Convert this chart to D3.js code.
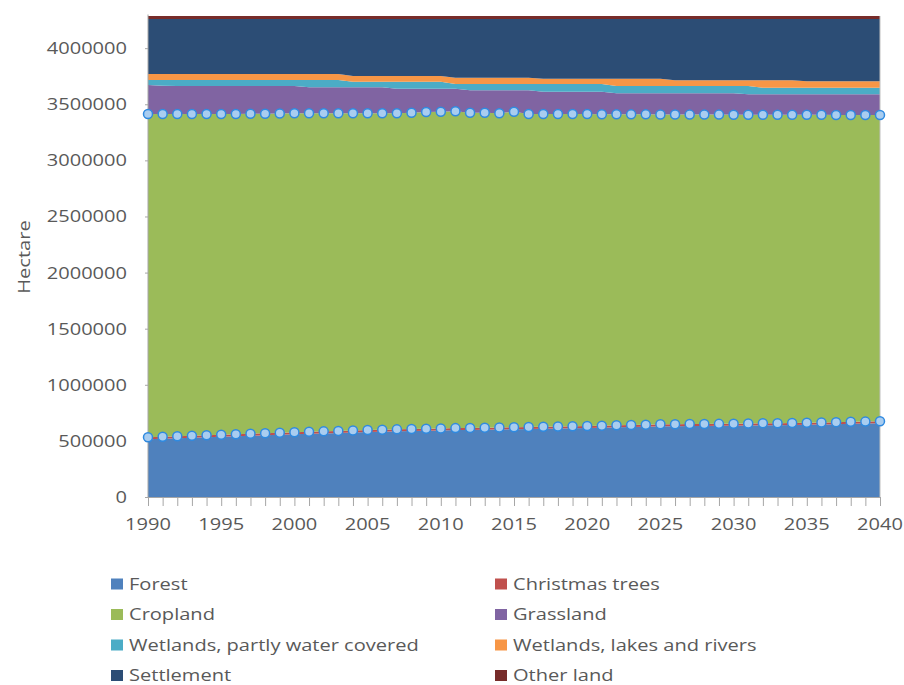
<!DOCTYPE html>
<html>
<head>
<meta charset="utf-8">
<script src="https://cdn.jsdelivr.net/npm/d3@7"></script>
<style>
  body { margin: 0; background: #fff; }
  text { font-family: "Open Sans", sans-serif; fill: #595959; }
</style>
</head>
<body>
<div id="chart"></div>
<script>
// land use, hectare, 1990-2040
const years = d3.range(1990, 2041);

const forest = [514000, 519000, 523000, 528000, 533000, 537000, 542000, 546000, 550000, 555000,
  559000, 563000, 567000, 571000, 575000, 579000, 582000, 585000, 588000, 591000,
  593000, 596000, 598000, 600000, 602000, 604000, 606000, 608000, 610000, 612000,
  615000, 618000, 621000, 624000, 627000, 630000, 631000, 632000, 633000, 634000,
  635000, 637000, 639000, 640000, 642000, 644000, 646000, 649000, 652000, 654000, 657000];

const christmasTrees = [18000, 18000, 18000, 18000, 18000, 18000, 18000, 18000, 18000, 18000,
  18000, 18000, 18000, 18000, 18000, 18000, 18000, 18000, 18000, 18000,
  18000, 18000, 18000, 18000, 18000, 18000, 18000, 18000, 18000, 18000,
  18000, 18000, 18000, 18000, 18000, 18000, 18000, 18000, 18000, 18000,
  18000, 18000, 18000, 18000, 18000, 18000, 18000, 18000, 18000, 18000, 18000];

const cropland = [2882000, 2877000, 2873000, 2868000, 2863000, 2859000, 2854000, 2851000, 2848000, 2845000,
  2843000, 2839000, 2835000, 2831000, 2827000, 2823000, 2820000, 2817000, 2819000, 2822000,
  2823000, 2823000, 2809000, 2807000, 2800000, 2812000, 2790000, 2788000, 2786000, 2784000,
  2781000, 2775000, 2772000, 2768000, 2765000, 2761000, 2760000, 2758000, 2757000, 2756000,
  2754000, 2752000, 2750000, 2748000, 2746000, 2744000, 2742000, 2738000, 2735000, 2733000, 2730000];

const grassland = [258000, 252000, 249000, 249000, 249000, 249000, 249000, 248000, 247000, 245000,
  243000, 232000, 232000, 232000, 232000, 232000, 232000, 219000, 214000, 208000,
  205000, 202000, 200000, 200000, 205000, 191000, 211000, 198000, 198000, 198000,
  198000, 201000, 187000, 188000, 188000, 189000, 189000, 190000, 190000, 190000,
  191000, 182000, 182000, 183000, 183000, 183000, 183000, 184000, 184000, 184000, 184000];

const wetlandsPartly = [45000, 51000, 54000, 54000, 54000, 54000, 54000, 54000, 54000, 54000,
  54000, 65000, 65000, 65000, 49000, 49000, 49000, 62000, 62000, 62000,
  62000, 42000, 56000, 56000, 56000, 56000, 56000, 69000, 69000, 69000,
  69000, 69000, 65000, 65000, 65000, 65000, 65000, 65000, 65000, 65000,
  65000, 74000, 59000, 59000, 59000, 59000, 59000, 59000, 59000, 59000, 59000];

const wetlandsLakes = [53000, 53000, 53000, 53000, 53000, 53000, 53000, 53000, 53000, 53000,
  53000, 53000, 53000, 53000, 51000, 51000, 51000, 51000, 51000, 51000,
  51000, 56000, 56000, 56000, 56000, 56000, 56000, 47000, 47000, 47000,
  47000, 47000, 65000, 65000, 65000, 65000, 51000, 51000, 51000, 51000,
  51000, 51000, 66000, 66000, 66000, 57000, 57000, 57000, 57000, 57000, 57000];

const settlement = [490000, 490000, 490000, 490000, 490000, 490000, 490000, 490000, 490000, 490000,
  490000, 490000, 490000, 490000, 508000, 508000, 508000, 508000, 508000, 508000,
  508000, 523000, 523000, 523000, 523000, 523000, 523000, 532000, 532000, 532000,
  532000, 532000, 532000, 532000, 532000, 532000, 546000, 546000, 546000, 546000,
  546000, 546000, 546000, 546000, 546000, 555000, 555000, 555000, 555000, 555000, 555000];

const otherLand = [27000, 27000, 27000, 27000, 27000, 27000, 27000, 27000, 27000, 27000,
  27000, 27000, 27000, 27000, 27000, 27000, 27000, 27000, 27000, 27000,
  27000, 27000, 27000, 27000, 27000, 27000, 27000, 27000, 27000, 27000,
  27000, 27000, 27000, 27000, 27000, 27000, 27000, 27000, 27000, 27000,
  27000, 27000, 27000, 27000, 27000, 27000, 27000, 27000, 27000, 27000, 27000];

const seriesNames = ["Forest", "Christmas trees", "Cropland", "Grassland",
  "Wetlands, partly water covered", "Wetlands, lakes and rivers", "Settlement", "Other land"];
const seriesColors = ["#4f81bd", "#c0504d", "#9bbb59", "#8064a2",
  "#4bacc6", "#f79646", "#2c4d75", "#772c2a"];
const yTicks = [0, 500000, 1000000, 1500000, 2000000, 2500000, 3000000, 3500000, 4000000];
const xTicks = [1990, 1995, 2000, 2005, 2010, 2015, 2020, 2025, 2030, 2035, 2040];

const allSeries = [forest, christmasTrees, cropland, grassland, wetlandsPartly, wetlandsLakes, settlement, otherLand];

const W = 904, H = 685;
const plot = {left: 148, right: 880, top: 14.5, bottom: 497};
const sx = 1.18;   // reference text is drawn a bit wide

const svg = d3.select("#chart").append("svg")
    .attr("width", W)
    .attr("height", H);

const x = d3.scaleLinear().domain([1990, 2040]).range([plot.left, plot.right]);
const y = d3.scaleLinear().domain([0, 4300000]).range([plot.bottom, plot.top]);

const rows = years.map((yr, i) => {
    const r = {year: yr};
    seriesNames.forEach((n, k) => r[n] = allSeries[k][i]);
    return r;
});
const stacked = d3.stack().keys(seriesNames)(rows);

const area = d3.area()
    .x(d => x(d.data.year))
    .y0(d => y(d[0]))
    .y1(d => y(d[1]));

svg.append("g").selectAll("path")
    .data(stacked)
    .enter().append("path")
    .attr("d", area)
    .attr("fill", (d, i) => seriesColors[i]);

// axes
const yAxis = svg.append("g")
    .attr("transform", "translate(" + plot.left + ",0)")
    .call(d3.axisLeft(y).tickValues(yTicks).tickFormat(d3.format("d")).tickSize(3).tickPadding(18));
yAxis.select(".domain").attr("stroke", "#a6a6a6").attr("d", "M0," + plot.top + "V" + plot.bottom);
yAxis.selectAll(".tick line").attr("stroke", "#a6a6a6");

svg.append("line")
    .attr("x1", plot.right).attr("x2", plot.right)
    .attr("y1", y(d3.sum(allSeries, s => s[0]))).attr("y2", plot.bottom)
    .attr("stroke", "#bfbfbf");

const xAxis = svg.append("g")
    .attr("transform", "translate(0," + plot.bottom + ")")
    .call(d3.axisBottom(x).tickValues(years).tickFormat("").tickSize(9).tickSizeOuter(0));
xAxis.select(".domain").attr("stroke", "#a6a6a6");
xAxis.selectAll(".tick line").attr("stroke", "#a6a6a6");

function wideText(sel) {
    sel.each(function () {
        const t = d3.select(this);
        const tx = +t.attr("x") || 0, ty = +t.attr("y") || 0;
        t.attr("x", 0).attr("y", 0)
            .attr("transform", "translate(" + tx + "," + ty + ") scale(" + sx + ",1)");
    });
}

yAxis.selectAll(".tick text").remove();
svg.append("g").selectAll("text")
    .data(yTicks)
    .enter().append("text")
    .attr("x", 127)
    .attr("y", d => y(d))
    .attr("dy", "0.35em")
    .attr("text-anchor", "end")
    .attr("font-size", 17)
    .text(d => d)
    .call(wideText);

svg.append("g").selectAll("text")
    .data(xTicks)
    .enter().append("text")
    .attr("x", d => x(d))
    .attr("y", 524)
    .attr("dy", "0.35em")
    .attr("text-anchor", "middle")
    .attr("font-size", 17)
    .text(d => d)
    .call(wideText);

svg.append("text")
    .attr("transform", "translate(30,257) rotate(-90) scale(" + sx + ",1)")
    .attr("text-anchor", "middle")
    .attr("font-size", 17)
    .text("Hectare");

// markers
const markerLayers = [stacked[1], stacked[2]];
markerLayers.forEach(layer => {
    svg.append("g").selectAll("circle")
        .data(layer)
        .enter().append("circle")
        .attr("cx", d => x(d.data.year))
        .attr("cy", d => y(d[1]))
        .attr("r", 4.5)
        .attr("fill", "#a9cdf0")
        .attr("stroke", "#2f8ae0")
        .attr("stroke-width", 1.5);
});

// legend
const legend = svg.append("g");
const items = legend.selectAll("g")
    .data(seriesNames)
    .enter().append("g")
    .attr("transform", (d, i) => "translate(" + (i % 2 === 0 ? 111 : 495) + "," + (584 + Math.floor(i / 2) * 30.5) + ")");
items.append("rect")
    .attr("x", 0).attr("y", -5.5)
    .attr("width", 12).attr("height", 11)
    .attr("fill", (d, i) => seriesColors[i]);
items.append("text")
    .attr("x", 18)
    .attr("y", 0)
    .attr("dy", "0.35em")
    .attr("font-size", 17)
    .text(d => d)
    .call(wideText);
</script>
</body>
</html>
